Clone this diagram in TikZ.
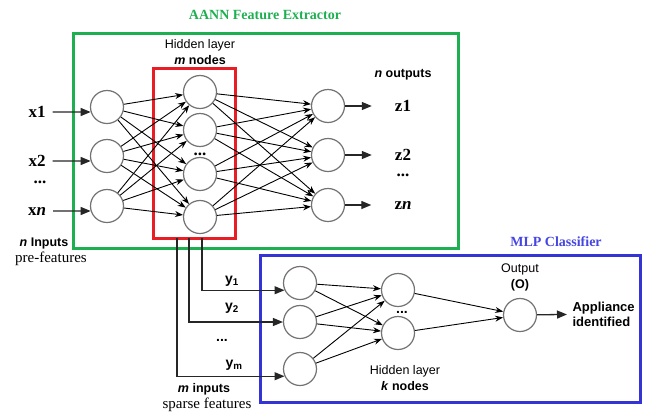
\documentclass[tikz,border=0pt]{standalone}
\usepackage{fontspec}
\setmainfont{Liberation Serif}
\setsansfont{Liberation Sans}
\usetikzlibrary{arrows.meta,positioning,calc}
\definecolor{boxgreen}{RGB}{30,176,80}
\definecolor{boxred}{RGB}{232,30,36}
\definecolor{boxblue}{RGB}{52,52,214}
\definecolor{titleblue}{RGB}{70,70,225}

\begin{document}
\begin{tikzpicture}[x=1pt,y=-1pt,
  neu/.style={draw=black!55,circle,line width=1.2pt,minimum size=33pt,inner sep=0pt},
  var/.style={font=\bfseries\fontsize{17}{17}\selectfont,inner sep=1pt},
  dots/.style={font=\bfseries\fontsize{17}{17}\selectfont,inner sep=0pt},
  lbl/.style={font=\sffamily\fontsize{12.5}{16}\selectfont,align=center},
  note/.style={font=\fontsize{15}{15}\selectfont,align=center},
  ttl/.style={font=\bfseries\fontsize{14}{14}\selectfont},
  arr/.style={-{Stealth[length=8pt,width=6pt]},line width=0.9pt},
  inarr/.style={-{Triangle[length=10pt,width=8pt]},line width=1.3pt,black!85}]
\useasboundingbox (0,0) rectangle (645,413);

% boxes
\draw[boxgreen,line width=3pt] (73,33) rectangle (458,248);
\draw[boxred,line width=3pt] (153,68) rectangle (235,238);
\draw[boxblue,line width=3pt] (260,255) rectangle (640,402);
\node[ttl,text=boxgreen] (aann) at (265,15) {AANN Feature Extractor};
\node[ttl,text=titleblue] (mlp) at (556,242) {MLP Classifier};

% AANN
\node[neu] (i1) at (107,107) {};
\node[neu] (i2) at (107,156) {};
\node[neu] (i3) at (107,206) {};
\node[neu] (h1) at (200,92) {};
\node[neu] (h2) at (200,130) {};
\node[neu] (h3) at (200,174) {};
\node[neu] (h4) at (200,217) {};
\node[neu] (o1) at (328,106) {};
\node[neu] (o2) at (328,155) {};
\node[neu] (o3) at (328,205) {};
\node[dots] at (200,154) {...};

\node[var] (x1) at (37,112) {x1};
\node[var] (x2) at (37,161) {x2};
\node[dots] at (40,182) {...};
\node[var] (xn) at (37,211) {x\textit{n}};
\node[var] (z1) at (403,106) {z1};
\node[var] (z2) at (403,155) {z2};
\node[dots] at (403,175) {...};
\node[var] (zn) at (403,205) {z\textit{n}};

\node[lbl] (hid) at (200,52) {Hidden layer\\\textbf{\textit{m} nodes}};
\node[lbl] (nout) at (403,75) {\textbf{\textit{n} outputs}};
\node[lbl] (nin) at (44,243) {\textbf{\textit{n}} \textbf{Inputs}};
\node[note] (pre) at (51,259) {pre-features};

\draw[inarr,shorten <=6pt] (x1) -- (i1.197);
\draw[inarr,shorten <=6pt] (x2) -- (i2.197);
\draw[inarr,shorten <=6pt] (xn) -- (i3.197);
\foreach \a in {1,2,3}
  \foreach \b in {1,2,3,4}
    \draw[arr] (i\a) -- (h\b);
\foreach \b in {1,2,3,4}
  \foreach \c in {1,2,3}
    \draw[arr] (h\b) -- (o\c);
\draw[inarr,shorten >=22pt] (o1) -- (z1);
\draw[inarr,shorten >=22pt] (o2) -- (z2);
\draw[inarr,shorten >=22pt] (o3) -- (zn);

% MLP
\node[neu] (m1) at (300,283) {};
\node[neu] (m2) at (300,322) {};
\node[neu] (m3) at (300,369) {};
\node[neu] (k1) at (398,290) {};
\node[neu] (k2) at (398,333) {};
\node[neu] (out) at (520,315) {};
\node[dots,font=\bfseries\sffamily\fontsize{14}{14}\selectfont] at (402,312) {...};

\coordinate (t1) at (202,238);
\coordinate (t2) at (189,238);
\coordinate (t3) at (177,238);
\draw[inarr] (t1) |- (m1.205);
\draw[inarr] (t2) |- (m2.west);
\draw[inarr] (t3) |- (m3.205);
\node[lbl,font=\bfseries\sffamily\fontsize{14}{14}\selectfont] (y1) at (232,281) {y\textsubscript{1}};
\node[lbl,font=\bfseries\sffamily\fontsize{14}{14}\selectfont] (y2) at (232,308) {y\textsubscript{2}};
\node[dots,font=\bfseries\sffamily\fontsize{14}{14}\selectfont] at (222,340) {...};
\node[lbl,font=\bfseries\sffamily\fontsize{14}{14}\selectfont] (ym) at (234,365) {y\textsubscript{m}};
\node[lbl] (min) at (204,389) {\textbf{\textit{m} inputs}};
\node[note] (spa) at (207,405) {sparse features};

\foreach \a in {1,2,3}
  \foreach \b in {1,2}
    \draw[arr] (m\a) -- (k\b);
\draw[arr] (k1) -- (out);
\draw[arr] (k2) -- (out);
\node[lbl] (hidk) at (405,378) {Hidden layer\\\textbf{\textit{k} nodes}};
\node[lbl] (outl) at (520,277) {Output\\\textbf{(O)}};
\node[lbl,font=\bfseries\sffamily\fontsize{13}{15}\selectfont,align=left,anchor=west] (app) at (569,314) {Appliance\\identified};
\draw[inarr,shorten >=2pt] (out) -- (app);
\end{tikzpicture}
\end{document}
